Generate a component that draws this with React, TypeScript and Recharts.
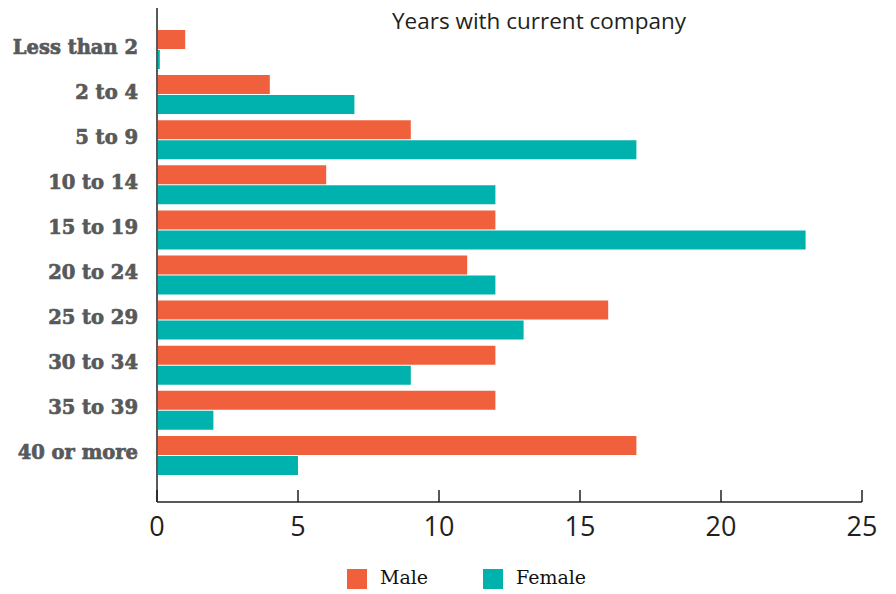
import React from 'react';
import { BarChart, Bar, XAxis, YAxis, Legend } from 'recharts';

// tenure groups, top to bottom
const categories = ['Less than 2', '2 to 4', '5 to 9', '10 to 14', '15 to 19', '20 to 24', '25 to 29', '30 to 34', '35 to 39', '40 or more'];
const maleValues = [1, 4, 9, 6, 12, 11, 16, 12, 12, 17];
const femaleValues = [0.1, 7, 17, 12, 23, 12, 13, 9, 2, 5];
const xTicks = [0, 5, 10, 15, 20, 25];

const MALE = '#F0603C';
const FEMALE = '#00B2AD';

const data = categories.map((name, i) => ({ name, male: maleValues[i], female: femaleValues[i] }));

const CategoryTick = (props: any) => {
  const { x, y, payload } = props;
  return (
    <text x={x} y={y} dy={4} textAnchor="end" fill="#58595b" stroke="#58595b" strokeWidth={0.7}
      style={{ fontFamily: '"DejaVu Serif", serif', fontWeight: 'bold', fontSize: 19.5 }}>
      {payload.value}
    </text>
  );
};

const ValueTick = (props: any) => {
  const { x, y, payload } = props;
  return (
    <g>
      <line x1={x} x2={x} y1={y - 12} y2={y} stroke="#231f20" strokeWidth={1.5} />
      <text x={x} y={y + 34} textAnchor="middle" fill="#231f20"
        style={{ fontFamily: '"Open Sans", sans-serif', fontSize: 27 }}>
        {payload.value}
      </text>
    </g>
  );
};

const LegendContent = () => (
  <div style={{ position: 'relative', height: 24, fontFamily: '"DejaVu Serif", serif', fontSize: 19, color: '#111' }}>
    <div style={{ position: 'absolute', left: 347, top: 0, width: 20, height: 20, background: MALE }} />
    <span style={{ position: 'absolute', left: 380, top: -3 }}>Male</span>
    <div style={{ position: 'absolute', left: 483, top: 0, width: 20, height: 20, background: FEMALE }} />
    <span style={{ position: 'absolute', left: 516, top: -3 }}>Female</span>
  </div>
);

export default function App() {
  return (
    <div style={{ position: 'absolute', left: 0, top: 0, width: 896, height: 594, background: '#fff' }}>
      <BarChart
        width={896}
        height={594}
        data={data}
        layout="vertical"
        margin={{ top: 8, right: 34, bottom: 62, left: 0 }}
        barSize={19}
        barGap={1}
      >
        <XAxis
          type="number"
          domain={[0, 25]}
          ticks={xTicks}
          interval={0}
          tickSize={0}
          tickMargin={0}
          tickLine={false}
          axisLine={{ stroke: '#58595b', strokeWidth: 2 }}
          tick={<ValueTick />}
        />
        <YAxis
          type="category"
          dataKey="name"
          width={157}
          padding={{ top: 19, bottom: 24 }}
          tickSize={0}
          tickMargin={19}
          tickLine={false}
          axisLine={{ stroke: '#58595b', strokeWidth: 2 }}
          tick={<CategoryTick />}
          interval={0}
        />
        <Legend
          layout="horizontal"
          verticalAlign="middle"
          align="center"
          wrapperStyle={{ top: 569, left: 0, width: 896 }}
          content={<LegendContent />}
        />
        <Bar dataKey="male" name="Male" fill={MALE} isAnimationActive={false} />
        <Bar dataKey="female" name="Female" fill={FEMALE} isAnimationActive={false} />
      </BarChart>
      <div style={{ position: 'absolute', left: 392, top: 5, fontFamily: '"Open Sans", sans-serif', fontSize: 22.5, color: '#231f20', whiteSpace: 'nowrap' }}>
        Years with current company
      </div>
    </div>
  );
}
